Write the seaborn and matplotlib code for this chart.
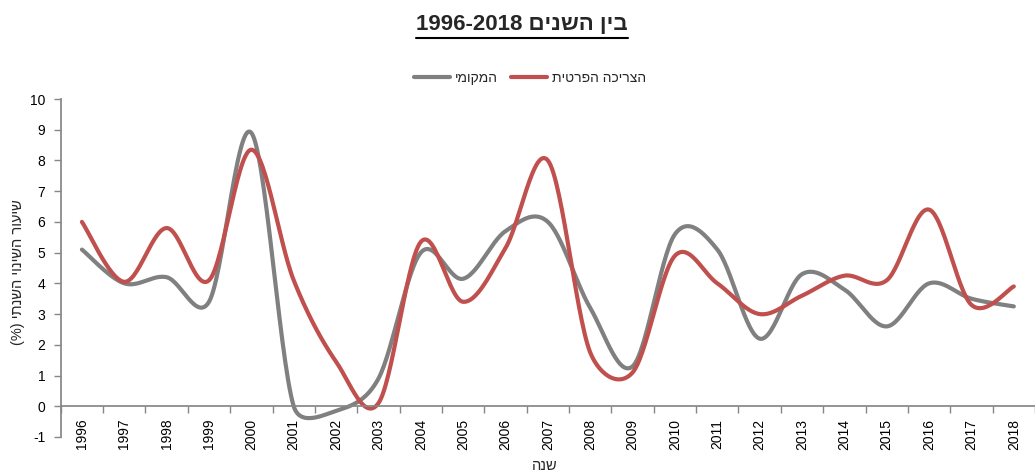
import numpy as np
import pandas as pd
import matplotlib
matplotlib.use("Agg")
import matplotlib.pyplot as plt
import seaborn as sns
from matplotlib.lines import Line2D

# Data (annual change, %)
years = list(range(1996, 2019))
local = [5.1, 4.0, 4.2, 3.4, 8.9, 0.0, -0.15, 0.9, 5.0, 4.15, 5.7, 6.0, 3.2, 1.3,
         5.6, 5.1, 2.2, 4.3, 3.8, 2.6, 4.0, 3.5, 3.25]
private_cons = [6.0, 4.05, 5.8, 4.1, 8.35, 4.1, 1.45, 0.1, 5.35, 3.4, 5.15, 8.0, 1.75, 1.1,
                4.9, 4.0, 3.0, 3.6, 4.25, 4.1, 6.4, 3.3, 3.9]

# Hebrew strings, written in visual (left-to-right) order since matplotlib has no bidi
title_txt = "1996-2018 " + "בין השנים"[::-1]
local_lbl = "המקומי"[::-1]
cons_lbl = "הצריכה הפרטית"[::-1]
ylabel_txt = "(%) " + "שיעור השינוי השנתי"[::-1]
xlabel_txt = "שנה"[::-1]

GRAY = "#808080"
RED = "#C0504D"
AXIS = "#868686"

sns.set_theme(style="white")
plt.rcParams['font.family'] = ['Liberation Sans', 'DejaVu Sans']
plt.rcParams['axes.unicode_minus'] = False


def excel_smooth(xs, ys, sx=42.5, sy=30.7, n=30):
    """Excel style smoothed line: cubic Bezier between points, controls from neighbours."""
    p = np.column_stack([np.asarray(xs, float) * sx, np.asarray(ys, float) * sy])
    out = []
    m = len(p)
    for i in range(m - 1):
        p0 = p[i - 1] if i > 0 else p[i]
        p1, p2 = p[i], p[i + 1]
        p3 = p[i + 2] if i + 2 < m else p[i + 1]
        d12 = np.hypot(*(p2 - p1))
        d02 = np.hypot(*(p2 - p0))
        d13 = np.hypot(*(p3 - p1))
        f1 = 1 / 6 if d02 / 6 < d12 / 2 else d12 / (2 * d02)
        f2 = 1 / 6 if d13 / 6 < d12 / 2 else d12 / (2 * d13)
        c1 = p1 + (p2 - p0) * f1
        c2 = p2 - (p3 - p1) * f2
        t = np.linspace(0, 1, n, endpoint=(i == m - 2))[:, None]
        seg = ((1 - t) ** 3) * p1 + 3 * ((1 - t) ** 2) * t * c1 + 3 * (1 - t) * t ** 2 * c2 + t ** 3 * p2
        out.append(seg)
    out = np.vstack(out)
    return out[:, 0] / sx, out[:, 1] / sy


frames = []
for name, vals in [(local_lbl, local), (cons_lbl, private_cons)]:
    sx_, sy_ = excel_smooth(years, vals)
    frames.append(pd.DataFrame({"year": sx_, "value": sy_, "series": name}))
df = pd.concat(frames, ignore_index=True)

fig = plt.figure(figsize=(10.35, 4.75), dpi=100)
ax = fig.add_axes([60.75 / 1035, 1 - 437 / 475, 1 - 60.75 / 1035, (437 - 99) / 475])

sns.lineplot(data=df, x="year", y="value", hue="series", sort=False, estimator=None,
             units="series", palette={local_lbl: GRAY, cons_lbl: RED},
             linewidth=3.0, ax=ax, legend=False)

ax.set_xlim(1995.5, 1995.5 + (1035 - 60.75) / 42.5)
ax.set_ylim(-1, 10)
ax.set_yticks(range(-1, 11))
ax.set_xticks(years)
ax.set_xticklabels([str(y) for y in years])
ax.set_xticks(np.arange(1995.5, 2019, 1.0), minor=True)
ax.tick_params(axis='x', which='major', length=0, pad=9, labelsize=10,
               labelcolor='black', labelrotation=90)
ax.tick_params(axis='x', which='minor', length=5, width=1, color=AXIS, direction='out',
               bottom=True)
ax.tick_params(axis='y', which='major', length=5, width=1, color=AXIS, direction='out',
               pad=6, labelsize=10, labelcolor='black', left=True)
ax.set_xlabel("")
ax.set_ylabel("")

for s in ['top', 'right']:
    ax.spines[s].set_visible(False)
ax.spines['bottom'].set_position(('data', 0))
ax.spines['bottom'].set_color(AXIS)
ax.spines['left'].set_color(AXIS)
ax.grid(False)

# Legend
handles = [Line2D([], [], color=GRAY, lw=3.0), Line2D([], [], color=RED, lw=3.0)]
fig.legend(handles, [local_lbl, cons_lbl], loc='center', bbox_to_anchor=(530 / 1035, 1 - 78 / 475),
           ncol=2, frameon=False, fontsize=10, handlelength=2.6, columnspacing=1.0,
           handletextpad=0.3)

fig.text(18 / 1035, 1 - 272 / 475, ylabel_txt, rotation=90, ha='center', va='center', fontsize=10.5)
fig.text(545 / 1035, 1 - 466 / 475, xlabel_txt, ha='center', va='center', fontsize=10.5)

title = fig.text(522 / 1035, 1 - 24 / 475, title_txt, ha='center', va='center',
                 fontsize=16, fontweight='bold')
fig.canvas.draw()
bb = title.get_window_extent().transformed(fig.transFigure.inverted())
uy = 1 - 38 / 475
fig.add_artist(Line2D([bb.x0, bb.x1], [uy, uy], transform=fig.transFigure, color='black', lw=1.5))

fig.savefig("out.png", dpi=100)
